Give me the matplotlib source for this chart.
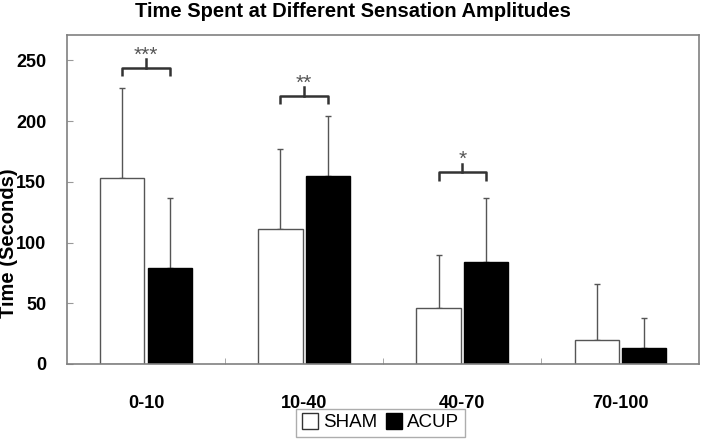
import numpy as np
import matplotlib.pyplot as plt
from matplotlib.lines import Line2D

categories = ["0-10", "10-40", "40-70", "70-100"]
sham = [153, 111, 46, 20]
sham_err = [74, 66, 44, 46]
acup = [79, 155, 84, 13]
acup_err = [58, 49, 53, 25]

# significance brackets: category index, bracket height, label
sig_cats = [0, 1, 2]
sig_heights = [244, 221, 158]
sig_labels = ["***", "**", "*"]

plt.rcParams['font.family'] = ['Liberation Sans', 'DejaVu Sans']

fig = plt.figure(figsize=(7.02, 4.42), dpi=100)
ax = fig.add_axes([0.0954, 0.1765, 0.901, 0.7443])

x = np.arange(len(categories))
w = 0.28
off = 0.15
edge = '#555555'

ax.bar(x - off, sham, w, color='white', edgecolor=edge, linewidth=1.0, zorder=2)
ax.bar(x + off, acup, w, color='black', edgecolor='black', linewidth=1.0, zorder=2)
ax.errorbar(x - off, sham, yerr=[np.zeros(4), sham_err], fmt='none',
            ecolor=edge, elinewidth=1.0, capsize=2.5, capthick=1.0, zorder=1)
ax.errorbar(x + off, acup, yerr=[np.zeros(4), acup_err], fmt='none',
            ecolor=edge, elinewidth=1.0, capsize=2.5, capthick=1.0, zorder=1)

for c, h, lab in zip(sig_cats, sig_heights, sig_labels):
    x0, x1 = c - off, c + off
    ax.plot([x0, x0, x1, x1], [h - 7, h, h, h - 7], color='#333333', lw=1.8,
            solid_capstyle='butt', clip_on=False)
    ax.plot([c, c], [h, h + 7], color='#333333', lw=1.8, clip_on=False)
    ax.text(c, h + 6, lab, ha='center', va='baseline', fontsize=15, color='#555555')

ax.set_xlim(-0.5, 3.5)
ax.set_ylim(0, 271)
ax.set_yticks([0, 50, 100, 150, 200, 250])
ax.set_xticks(x)
ax.set_xticklabels(categories, fontsize=13, fontweight='bold')
ax.set_xticks([0.5, 1.5, 2.5], minor=True)
ax.tick_params(axis='x', which='major', length=0, pad=22)
ax.tick_params(axis='x', which='minor', direction='in', length=4, color='#999999')
ax.tick_params(axis='y', direction='in', length=4, color='#999999', labelsize=13, pad=15)
for lab in ax.get_yticklabels():
    lab.set_fontweight('bold')
for s in ax.spines.values():
    s.set_color('#808080')
    s.set_linewidth(1.2)

fig.text(0.012, 0.45, "Time (Seconds)", rotation=90, ha='center', va='center',
         fontsize=14.5, fontweight='bold')
fig.suptitle("Time Spent at Different Sensation Amplitudes", fontsize=14.5,
             fontweight='bold', y=0.995, x=0.503)

handles = [Line2D([], [], marker='s', ls='none', markerfacecolor='white',
                  markeredgecolor='#333333', markersize=12),
           Line2D([], [], marker='s', ls='none', markerfacecolor='black',
                  markeredgecolor='black', markersize=12)]
leg = fig.legend(handles, ["SHAM", "ACUP"], loc='lower center', ncol=2,
                 bbox_to_anchor=(0.542, -0.01), fontsize=13.5, frameon=True,
                 fancybox=False, handlelength=0.8, handletextpad=0.3,
                 columnspacing=0.5, borderpad=0.3)
leg.get_frame().set_edgecolor('#999999')
leg.get_frame().set_linewidth(1.0)

fig.savefig("out.png", dpi=100)
